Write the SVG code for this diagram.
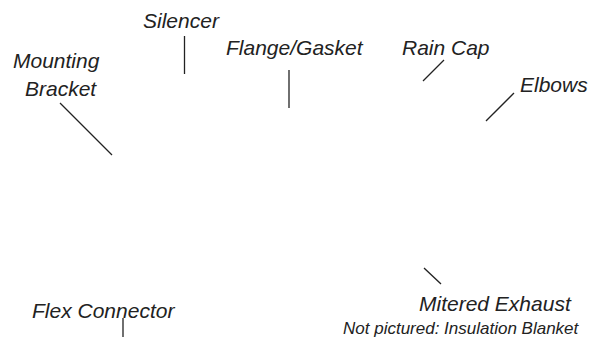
<svg xmlns="http://www.w3.org/2000/svg" width="597" height="337" viewBox="0 0 597 337">
<style>
text{font-family:"Liberation Sans",Arial,sans-serif;font-style:italic;font-size:21px;fill:#222}
.small{font-size:17px}
.lead{stroke:#222;stroke-width:1.3;fill:none}
</style>
<rect width="597" height="337" fill="#fff"/>
<g id="connectors">
<line class="lead" x1="184.5" y1="36" x2="184.5" y2="74"/>
<line class="lead" x1="60" y1="103" x2="112" y2="155"/>
<line class="lead" x1="289" y1="70" x2="289" y2="108"/>
<line class="lead" x1="444" y1="60" x2="423" y2="81"/>
<line class="lead" x1="514" y1="93" x2="486" y2="121"/>
<line class="lead" x1="123" y1="318" x2="123" y2="337"/>
<line class="lead" x1="424" y1="268" x2="441" y2="284"/>
</g>
<g id="silencer"><text x="143" y="28">Silencer</text></g>
<g id="mounting-bracket"><text x="13" y="68">Mounting</text><text x="25" y="96">Bracket</text></g>
<g id="flange-gasket"><text x="226" y="55">Flange/Gasket</text></g>
<g id="rain-cap"><text x="402" y="55">Rain Cap</text></g>
<g id="elbows"><text x="520" y="92">Elbows</text></g>
<g id="flex-connector"><text x="32" y="318">Flex Connector</text></g>
<g id="mitered-exhaust"><text x="419" y="311">Mitered Exhaust</text></g>
<g id="note"><text class="small" x="343" y="334">Not pictured: Insulation Blanket</text></g>
</svg>
